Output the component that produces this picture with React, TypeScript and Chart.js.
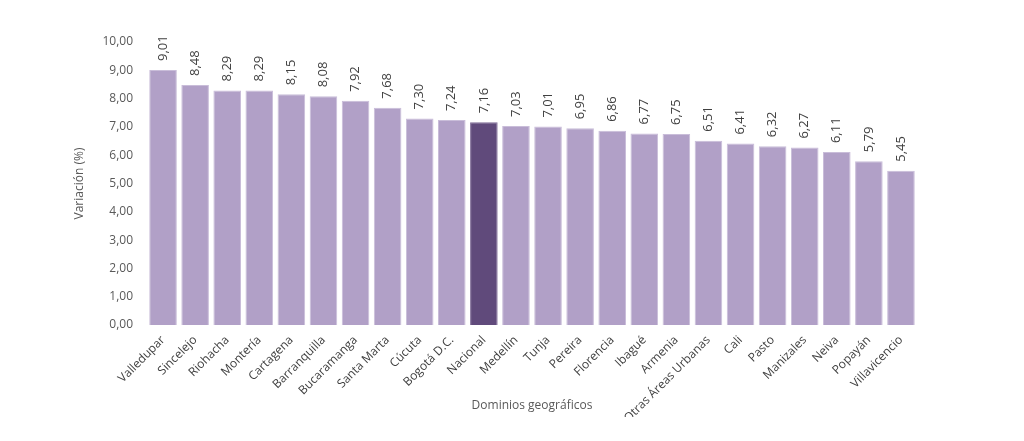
import React, { useEffect, useRef } from "react";
import { Chart, registerables } from "chart.js";

Chart.register(...registerables);

const categories = [
  "Valledupar", "Sincelejo", "Riohacha", "Montería", "Cartagena", "Barranquilla",
  "Bucaramanga", "Santa Marta", "Cúcuta", "Bogotá D.C.", "Nacional", "Medellín",
  "Tunja", "Pereira", "Florencia", "Ibagué", "Armenia", "Otras Áreas Urbanas",
  "Cali", "Pasto", "Manizales", "Neiva", "Popayán", "Villavicencio",
];
const values = [
  9.01, 8.48, 8.29, 8.29, 8.15, 8.08, 7.92, 7.68, 7.3, 7.24, 7.16, 7.03,
  7.01, 6.95, 6.86, 6.77, 6.75, 6.51, 6.41, 6.32, 6.27, 6.11, 5.79, 5.45,
];
const highlighted = "Nacional";
const yAxisTitle = "Variación (%)";
const xAxisTitle = "Dominios geográficos";

const LIGHT = "#B1A0C7";
const DARK = "#604A7B";
const FONT = "'Open Sans', 'Noto Sans', sans-serif";

const fmt = (v: number) => v.toFixed(2).replace(".", ",");

const labelPlugin = {
  id: "vlabels",
  afterDatasetsDraw(chart: any) {
    const ctx = chart.ctx;
    const meta = chart.getDatasetMeta(0);
    ctx.save();
    ctx.font = `13px ${FONT}`;
    ctx.fillStyle = "#404040";
    ctx.textAlign = "left";
    ctx.textBaseline = "middle";
    meta.data.forEach((el: any, i: number) => {
      ctx.save();
      ctx.translate(el.x, el.y - 9);
      ctx.rotate(-Math.PI / 2);
      ctx.fillText(fmt(values[i]), 0, 0);
      ctx.restore();
    });
    ctx.restore();
  },
};

export default function App() {
  const ref = useRef<HTMLCanvasElement>(null);
  useEffect(() => {
    document.body.style.margin = "0";
    const chart = new Chart(ref.current!, {
      type: "bar",
      data: {
        labels: categories,
        datasets: [
          {
            data: values,
            backgroundColor: categories.map((c) => (c === highlighted ? DARK : LIGHT)),
            borderColor: categories.map((c) => (c === highlighted ? "#7E6A96" : "#C9BDD9")),
            borderWidth: 1,
            barPercentage: 0.86,
            categoryPercentage: 1,
          },
        ],
      },
      options: {
        responsive: false,
        animation: false,
        layout: { padding: { left: 68, right: 107, top: 42, bottom: 24 } },
        plugins: { legend: { display: false }, tooltip: { enabled: false } },
        scales: {
          x: {
            grid: { display: false },
            border: { display: false },
            ticks: {
              minRotation: 45,
              maxRotation: 45,
              autoSkip: false,
              color: "#404040",
              font: { family: FONT, size: 12 },
              padding: 0,
            },
            title: {
              display: true,
              text: xAxisTitle,
              color: "#595959",
              font: { family: FONT, size: 12 },
              padding: 4,
            },
            afterFit: (s: any) => {
              s.height = 441 - 24 - 325;
            },
          },
          y: {
            min: 0,
            max: 10,
            grid: { display: false },
            border: { display: false },
            ticks: {
              stepSize: 1,
              color: "#595959",
              font: { family: FONT, size: 12 },
              padding: 6,
              callback: (v: any) => fmt(Number(v)),
            },
            title: {
              display: true,
              text: yAxisTitle,
              color: "#595959",
              font: { family: FONT, size: 12 },
              padding: 4,
            },
            afterFit: (s: any) => {
              s.width = 147 - 68;
            },
          },
        },
      },
      plugins: [labelPlugin],
    });
    return () => chart.destroy();
  }, []);
  return (
    <div style={{ width: 1024, height: 441 }}>
      <canvas ref={ref} width={1024} height={441} style={{ display: "block" }} />
    </div>
  );
}
